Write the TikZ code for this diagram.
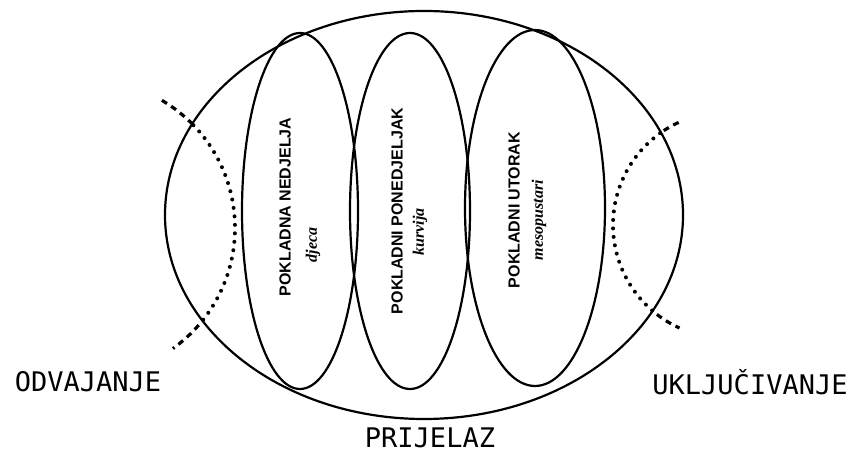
\documentclass[tikz,border=0pt]{standalone}
\usepackage{fontspec}
\setmainfont{Liberation Sans}
\newfontfamily\pixfont{DejaVu Sans Mono}
\newfontfamily\handfont{Liberation Serif}
\usetikzlibrary{shapes.geometric,positioning}

\begin{document}
\begin{tikzpicture}[x=1pt,y=1pt,
      ov/.style={draw,ellipse,line width=2.2pt,inner sep=0pt},
      day/.style={rotate=90,font=\bfseries\fontsize{16}{18}\selectfont,inner sep=0pt},
      who/.style={rotate=90,font=\handfont\bfseries\itshape\fontsize{16}{18}\selectfont,inner sep=0pt},
      lbl/.style={font=\pixfont\fontsize{27}{30}\selectfont,inner sep=0pt},
      dotline/.style={line width=4pt,line cap=round,dash pattern=on 0pt off 8.5pt},
      dashline/.style={line width=3.2pt,dash pattern=on 6pt off 5pt}]
  \useasboundingbox (0,0) rectangle (854,454);
  % outer ring and the three days
  \node[ov,minimum width=518pt,minimum height=408pt] (all) at (424,239) {};
  \node[ov,minimum width=116pt,minimum height=356pt] (ned) at (300,243) {};
  \node[ov,minimum width=120pt,minimum height=356pt] (pon) at (410,243) {};
  \node[ov,minimum width=140pt,minimum height=356pt] (uto) at (535,246) {};
  % texts inside
  \node[day] (nedt) at (285,247) {POKLADNA NEDJELJA};
  \node[who] (nedw) at (313,209) {djeca};
  \node[day] (pont) at (397,243) {POKLADNI PONEDJELJAK};
  \node[who] (ponw) at (420,222) {kurvija};
  \node[day] (utot) at (514,244) {POKLADNI UTORAK};
  \node[who] (utow) at (539,234) {mesopustari};
  % separation and inclusion
  \coordinate (lc) at (87,226);
  \coordinate (rc) at (726,229);
  \draw[dashline] (lc) ++(59.6:148) arc[start angle=59.6,end angle=44,radius=148];
  \draw[dotline] (lc) ++(44:148) arc[start angle=44,end angle=-41,radius=148];
  \draw[dashline] (lc) ++(-41:148) arc[start angle=-41,end angle=-54.5,radius=148];
  \draw[dashline] (rc) ++(114.8:113) arc[start angle=114.8,end angle=125.7,radius=113];
  \draw[dotline] (rc) ++(125.7:113) arc[start angle=125.7,end angle=232.3,radius=113];
  \draw[dashline] (rc) ++(232.3:113) arc[start angle=232.3,end angle=245.7,radius=113];
  % labels
  \node[lbl] (odv) at (88,72) {ODVAJANJE};
  \node[lbl] (ukl) at (750,72) {UKLJUČIVANJE};
  \node[lbl] (pri) at (430,16) {PRIJELAZ};
\end{tikzpicture}
\end{document}
